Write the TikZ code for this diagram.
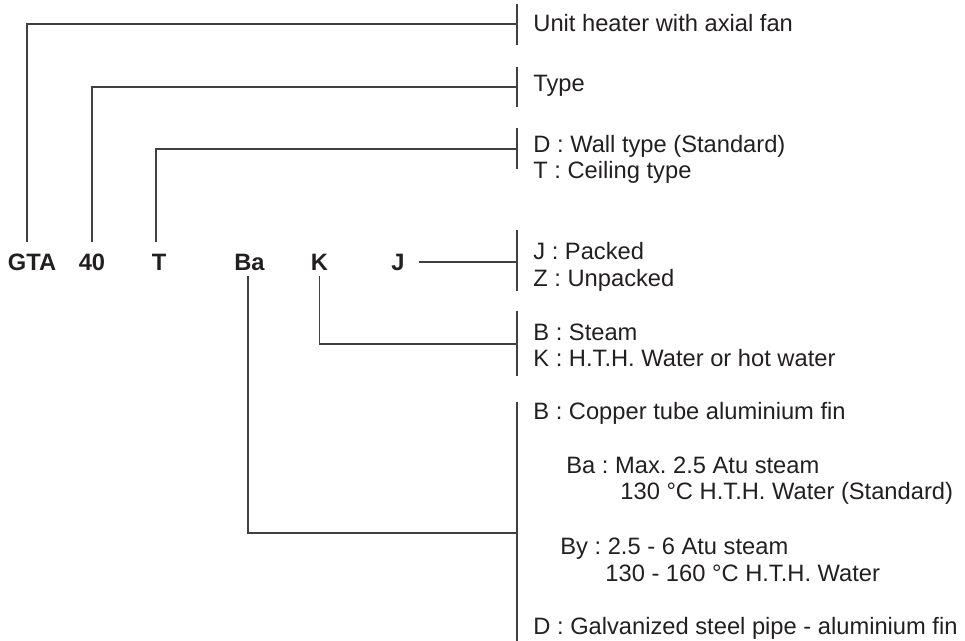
\documentclass[tikz,border=0pt]{standalone}
\usepackage{fontspec}
\setmainfont{Liberation Sans}
\definecolor{ink}{HTML}{231F20}
\definecolor{leadgray}{HTML}{404040}
\tikzset{
  code/.style={font=\bfseries, text=ink, inner xsep=0pt, inner ysep=6pt, anchor=base},
  desc/.style={text=ink, inner sep=0pt, anchor=base west},
  lead/.style={draw=leadgray, line width=0.6pt}
}
\begin{document}
\frenchspacing
\fontsize{11.85}{13.3}\selectfont
\begin{tikzpicture}[x=0.5pt,y=-0.5pt]
    \useasboundingbox (0,0) rectangle (965,641);
    % type code
    \node [code] (gta) at (32,271) {GTA};
    \node [code] (forty) at (92,271) {40};
    \node [code] (tee) at (159,271) {T};
    \node [code] (ba) at (249.5,271) {Ba};
    \node [code] (kay) at (319.5,271) {K};
    \node [code] (jay) at (398,271) {J};
    % brackets on the right
    \draw [lead] (517,4) -- (517,45);
    \draw [lead] (517,67) -- (517,107);
    \draw [lead] (517,128) -- (517,169);
    \draw [lead] (517,230) -- (517,291);
    \draw [lead] (517,311) -- (517,376);
    \draw [lead] (517,402) -- (517,641);
    \coordinate (unit) at (517,24);
    \coordinate (type) at (517,87);
    \coordinate (mount) at (517,149);
    \coordinate (pack) at (517,262);
    \coordinate (medium) at (517,344);
    \coordinate (coil) at (517,533);
    % leaders
    \draw [lead] ([xshift=-2.5pt]gta.north) |- (unit);
    \draw [lead] (forty.north) |- (type);
    \draw [lead] ([xshift=-1.5pt]tee.north) |- (mount);
    \draw [lead] ([xshift=7pt]pack -| jay.east) -- (pack);
    \draw [lead] ([yshift=-2.5pt]kay.base) |- (medium);
    \draw [lead] ([xshift=-0.75pt,yshift=-2.5pt]ba.base) |- (coil);
    % descriptions
    \node [desc] (unitd) at (533,32) {Unit heater with axial fan};
    \node [desc] (typed) at (533,92) {Type};
    \node [desc] (walld) at (533,153) {D : Wall type (Standard)};
    \node [desc] (ceild) at (533,179) {T : Ceiling type};
    \node [desc] (packd) at (533,260) {J : Packed};
    \node [desc] (unpackd) at (533,287) {Z : Unpacked};
    \node [desc] (steamd) at (533,341) {B : Steam};
    \node [desc] (waterd) at (533,367) {K : H.T.H. Water or hot water};
    \node [desc] (copperd) at (533,420) {B : Copper tube aluminium fin};
    \node [desc] (bad) at (566,474) {Ba : Max. 2.5 Atu steam};
    \node [desc] (badw) at (620,500) {130 °C H.T.H. Water (Standard)};
    \node [desc] (byd) at (560,555) {By : 2.5 - 6 Atu steam};
    \node [desc] (bydw) at (605,582) {130 - 160 °C H.T.H. Water};
    \node [desc] (galvd) at (533,635) {D : Galvanized steel pipe - aluminium fin};
\end{tikzpicture}
\end{document}
